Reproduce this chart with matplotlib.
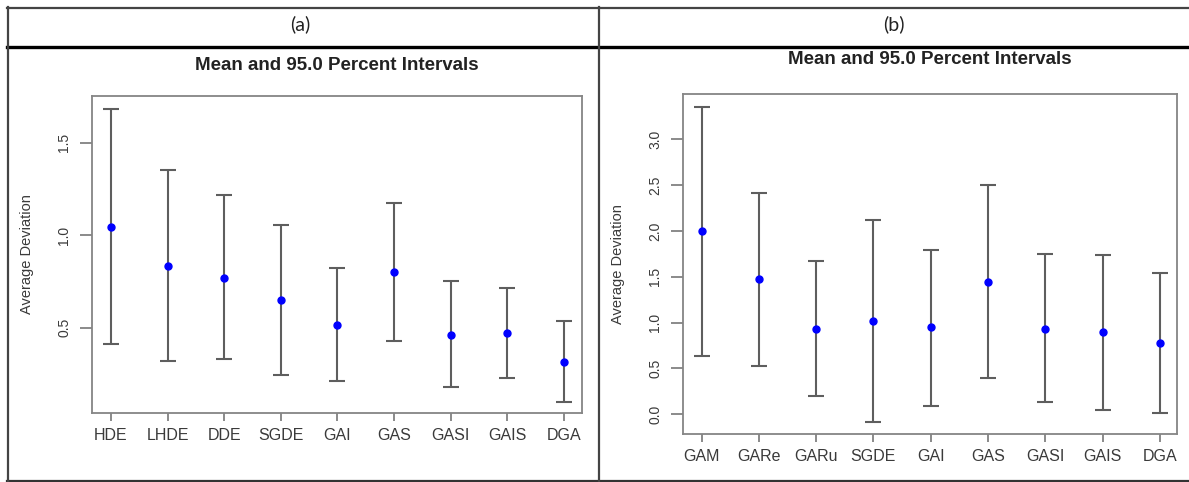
import matplotlib
matplotlib.use("Agg")
import matplotlib.pyplot as plt
from matplotlib.lines import Line2D
import numpy as np

# ---- data ----
cats_a = ["HDE", "LHDE", "DDE", "SGDE", "GAI", "GAS", "GASI", "GAIS", "DGA"]
mean_a = [1.045, 0.834, 0.771, 0.650, 0.516, 0.800, 0.460, 0.471, 0.316]
upper_a = [1.683, 1.352, 1.217, 1.054, 0.825, 1.172, 0.751, 0.713, 0.538]
lower_a = [0.410, 0.321, 0.329, 0.244, 0.213, 0.426, 0.177, 0.226, 0.099]
yticks_a = [0.5, 1.0, 1.5]

cats_b = ["GAM", "GARe", "GARu", "SGDE", "GAI", "GAS", "GASI", "GAIS", "DGA"]
mean_b = [2.000, 1.476, 0.934, 1.021, 0.949, 1.447, 0.934, 0.894, 0.775]
upper_b = [3.356, 2.410, 1.676, 2.120, 1.790, 2.505, 1.749, 1.738, 1.545]
lower_b = [0.640, 0.530, 0.200, -0.080, 0.090, 0.396, 0.138, 0.047, 0.010]
yticks_b = [0.0, 0.5, 1.0, 1.5, 2.0, 2.5, 3.0]

panel_labels = ["(a)", "(b)"]
title = "Mean and 95.0 Percent Intervals"
ylabel = "Average Deviation"

W, H = 1189, 482
fig = plt.figure(figsize=(W / 100, H / 100), dpi=100)
fig.patch.set_facecolor("white")

FONT = ["Liberation Sans", "DejaVu Sans"]
TXT = "#3a3a3a"

def fx(px):
    return px / W

def fy(py):
    return 1 - py / H

def draw_panel(rect, cats, mean, upper, lower, yticks, xlim, ylim):
    ax = fig.add_axes(rect)
    x = np.arange(1, len(cats) + 1)
    mean = np.array(mean)
    yerr = np.vstack([mean - np.array(lower), np.array(upper) - mean])
    ax.errorbar(x, mean, yerr=yerr, fmt="none", ecolor="#5e5e5e",
                elinewidth=1.5, capsize=5.5, capthick=1.5)
    ax.plot(x, mean, "o", color="#0000ff", markersize=5, zorder=3)
    ax.set_xlim(*xlim)
    ax.set_ylim(*ylim)
    ax.set_xticks(x)
    ax.set_xticklabels(cats, fontsize=11.5, family=FONT, color=TXT)
    ax.set_yticks(yticks)
    ax.set_yticklabels([f"{v:.1f}" for v in yticks], rotation=90,
                       va="center", fontsize=10, family=FONT, color=TXT)
    ax.tick_params(axis="x", length=6, width=1.2, color="#777777", pad=5)
    ax.tick_params(axis="y", length=9, width=1.2, color="#777777", pad=6)
    for s in ax.spines.values():
        s.set_color("#858585")
        s.set_linewidth(1.3)
    ax.set_ylabel(ylabel, fontsize=10.5, family=FONT, color=TXT, labelpad=17)
    return ax

ax_a = draw_panel([fx(92), fy(413), fx(490), (413 - 96) / H],
                  cats_a, mean_a, upper_a, lower_a, yticks_a,
                  (0.665, 9.318), (0.038, 1.753))
ax_b = draw_panel([fx(683.3), fy(434), fx(493.7), (434 - 94.3) / H],
                  cats_b, mean_b, upper_b, lower_b, yticks_b,
                  (0.68, 9.30), (-0.215, 3.49))

# titles
fig.text(fx(337), fy(66), title, ha="center", va="center", fontsize=13.5,
         fontweight="bold", family=FONT, color="#222222")
fig.text(fx(930), fy(60), title, ha="center", va="center", fontsize=13.5,
         fontweight="bold", family=FONT, color="#222222")

# panel header labels
fig.text(fx(300), fy(24), panel_labels[0], ha="center", va="center",
         fontsize=14, family=["Lato", "DejaVu Sans"], color="#222222")
fig.text(fx(894), fy(24), panel_labels[1], ha="center", va="center",
         fontsize=14, family=["Lato", "DejaVu Sans"], color="#222222")

# table frame
def hline(y, x0, x1, lw, c):
    fig.add_artist(Line2D([fx(x0), fx(x1)], [fy(y), fy(y)], lw=lw, color=c,
                          transform=fig.transFigure))

def vline(x, y0, y1, lw, c):
    fig.add_artist(Line2D([fx(x), fx(x)], [fy(y0), fy(y1)], lw=lw, color=c,
                          transform=fig.transFigure))

hline(7.5, 6.5, W, 1.6, "#444444")
hline(47, 6.5, W, 2.4, "#000000")
hline(480.5, 6.5, W, 1.6, "#333333")
vline(7.5, 6.5, 481, 1.6, "#444444")
vline(599, 6.5, 481, 1.6, "#444444")

fig.savefig("out.png", dpi=100, facecolor="white")
